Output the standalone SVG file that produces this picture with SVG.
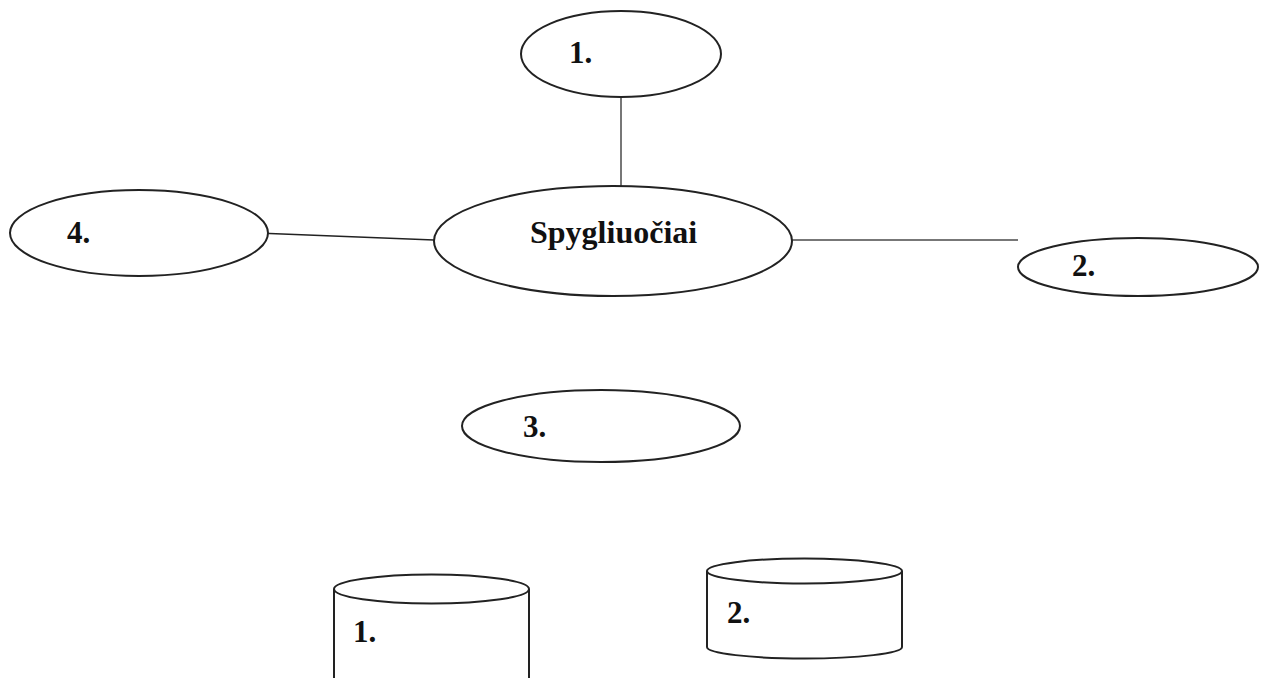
<svg xmlns="http://www.w3.org/2000/svg" width="1266" height="678" viewBox="0 0 1266 678">
  <style>
    .shape { fill: #fff; stroke: #222; stroke-width: 2; }
    .label { font-family: "Liberation Serif", "Times New Roman", serif; font-weight: bold; font-size: 31px; fill: #111; }
    .title { font-family: "Liberation Serif", "Times New Roman", serif; font-weight: bold; font-size: 32px; fill: #111; }
    .link { stroke: #777; stroke-width: 2; fill: none; }
    .link-dark { stroke: #222; stroke-width: 1.6; fill: none; }
  </style>
  <rect width="1266" height="678" fill="#fff"/>

  <!-- connectors between the central node and its satellites -->
  <g id="connectors">
    <line class="link" x1="621" y1="94" x2="621" y2="186"/>
    <line class="link" x1="792" y1="240" x2="1018" y2="240"/>
    <line class="link-dark" x1="257" y1="233" x2="434" y2="240"/>
  </g>

  <g id="node-center">
    <ellipse class="shape" cx="613" cy="241" rx="179" ry="55"/>
    <text class="title" x="530" y="243">Spygliuočiai</text>
  </g>

  <g id="node-1">
    <ellipse class="shape" cx="621" cy="54" rx="100" ry="43"/>
    <text class="label" x="569" y="63">1.</text>
  </g>

  <g id="node-2">
    <ellipse class="shape" cx="1138" cy="267" rx="120" ry="29"/>
    <text class="label" x="1072" y="276">2.</text>
  </g>

  <g id="node-3">
    <ellipse class="shape" cx="601" cy="426" rx="139" ry="36"/>
    <text class="label" x="523" y="437">3.</text>
  </g>

  <g id="node-4">
    <ellipse class="shape" cx="139" cy="233" rx="129" ry="43"/>
    <text class="label" x="67" y="243">4.</text>
  </g>

  <!-- cylinders -->
  <g id="cylinder-1">
    <path class="shape" d="M334 589 L334 680 L529 680 L529 589"/>
    <ellipse class="shape" cx="431.5" cy="589" rx="97.5" ry="14.5"/>
    <text class="label" x="353" y="642">1.</text>
  </g>

  <g id="cylinder-2">
    <path class="shape" d="M707 571 L707 647 A97.5 11.5 0 0 0 902 647 L902 571"/>
    <ellipse class="shape" cx="804.5" cy="571" rx="97.5" ry="12.5"/>
    <text class="label" x="727" y="623">2.</text>
  </g>
</svg>
